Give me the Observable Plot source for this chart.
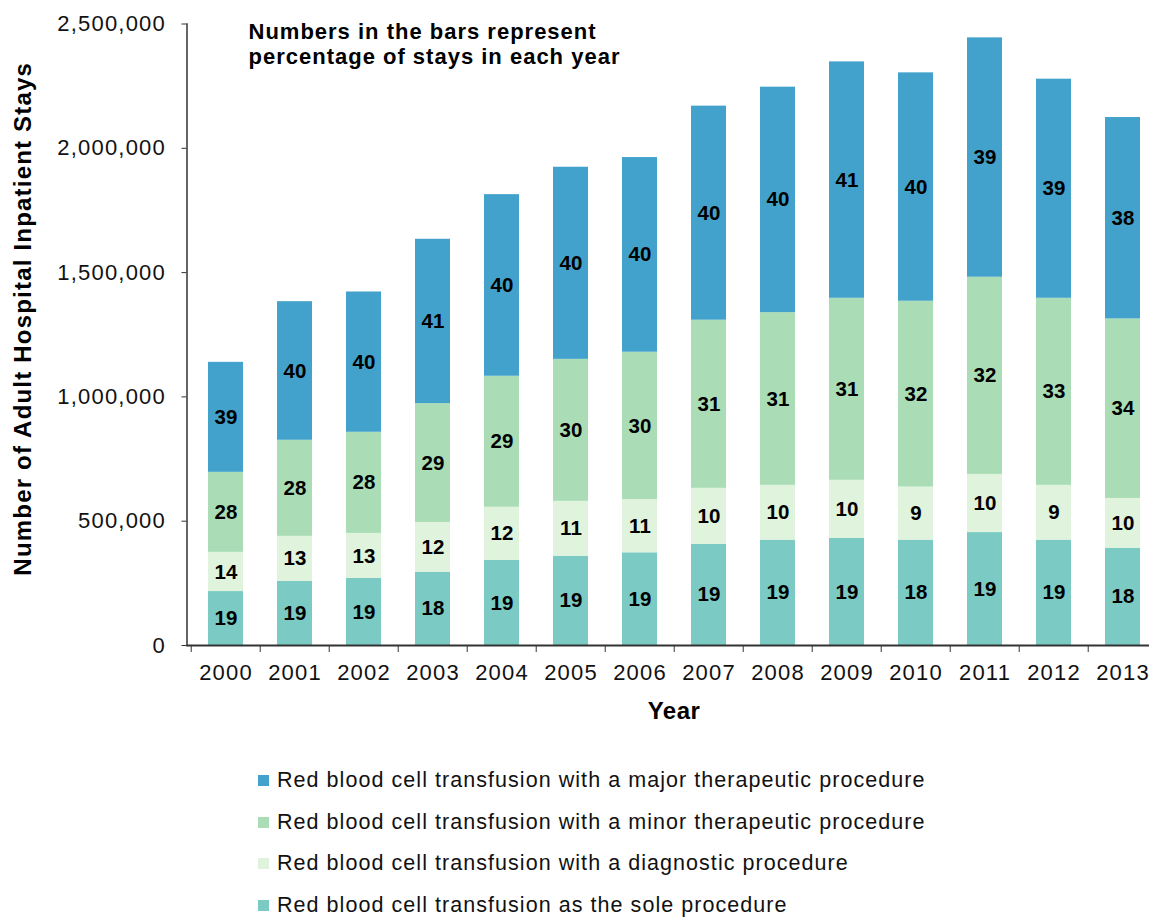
<!DOCTYPE html>
<html>
<head>
<meta charset="utf-8">
<script src="https://cdn.jsdelivr.net/npm/d3@7"></script>
<script src="https://cdn.jsdelivr.net/npm/@observablehq/plot@0.6"></script>
<style>
  html, body { margin: 0; padding: 0; background: white; }
  #wrap { position: relative; width: 1149px; height: 918px; overflow: hidden; font-family: "Liberation Sans", Arial, sans-serif; }
  .legend { position: absolute; left: 258px; top: 760px; }
  .legend .row { position: absolute; left: 0; height: 24px; white-space: nowrap; display: flex; align-items: center; font-size: 21.5px; letter-spacing: 1.05px; color: #111; }
  .legend .sw { width: 11px; height: 11px; margin-right: 8px; flex: none; }
  .bar-label text { letter-spacing: 0.2px; }
  .note text { letter-spacing: 1px; }
  .ytitle text { letter-spacing: 1.2px; }
  .xtitle text { letter-spacing: 0.5px; }
  g[aria-label="y-axis tick label"] text, g[aria-label="x-axis tick label"] text { letter-spacing: 1.2px; }
</style>
</head>
<body>
<div id="wrap"></div>
<script>
// ---- data ----
const years = ["2000","2001","2002","2003","2004","2005","2006","2007","2008","2009","2010","2011","2012","2013"];

const seriesNames = [
  "Red blood cell transfusion as the sole procedure",
  "Red blood cell transfusion with a diagnostic procedure",
  "Red blood cell transfusion with a minor therapeutic procedure",
  "Red blood cell transfusion with a major therapeutic procedure"
];
const seriesColors = ["#7BCBC4", "#E0F3DC", "#AADDB5", "#42A2CB"];

// stays
const soleValues  = [217000, 257600, 269500, 295000, 342400, 359300, 372900, 406800, 423800, 430500, 423800, 454300, 423800, 391500];
const diagValues  = [157600, 181400, 181400, 200000, 213600, 220400, 213600, 225400, 220300, 233900, 213500, 233900, 220300, 200100];
const minorValues = [322000, 386500, 406800, 478000, 527000, 571300, 593200, 676300, 694900, 732300, 747500, 793200, 752600, 722000];
const majorValues = [442400, 557500, 564300, 661000, 730600, 772800, 783100, 861100, 906900, 950900, 918700, 962800, 881300, 810200];

// percentages printed in the bars
const solePct  = [19, 19, 19, 18, 19, 19, 19, 19, 19, 19, 18, 19, 19, 18];
const diagPct  = [14, 13, 13, 12, 12, 11, 11, 10, 10, 10, 9, 10, 9, 10];
const minorPct = [28, 28, 28, 29, 29, 30, 30, 31, 31, 31, 32, 32, 33, 34];
const majorPct = [39, 40, 40, 41, 40, 40, 40, 40, 40, 41, 40, 39, 39, 38];

const yTicks = [0, 500000, 1000000, 1500000, 2000000, 2500000];

const noteText = "Numbers in the bars represent\npercentage of stays in each year";
const yTitle = "Number of Adult Hospital Inpatient Stays";
const xTitle = "Year";

// ---- table ----
const valueSets = [soleValues, diagValues, minorValues, majorValues];
const pctSets = [solePct, diagPct, minorPct, majorPct];
const rows = [];
seriesNames.forEach((s, i) => {
  years.forEach((y, j) => {
    rows.push({year: y, series: s, value: valueSets[i][j], pct: String(pctSets[i][j])});
  });
});

const FONT = "'Liberation Sans', Arial, sans-serif";
const W = 1149, H = 740, ML = 186.5, MR = -11.5, MT = 23.5, MB = 95;
const step = (W - MR - ML) / (years.length - 0.5 + 0.5);

const chart = Plot.plot({
  width: W,
  height: H,
  marginLeft: ML,
  marginRight: MR,
  marginTop: MT,
  marginBottom: MB,
  style: {fontFamily: FONT, background: "white", color: "#111", overflow: "visible"},
  x: {type: "band", domain: years, paddingInner: 0.5, paddingOuter: 0.25, label: null},
  y: {domain: [0, 2500000], label: null},
  color: {domain: seriesNames, range: seriesColors},
  marks: [
    Plot.barY(rows, {x: "year", y: "value", fill: "series", order: seriesNames}),
    Plot.text(rows, Plot.stackY({
      x: "year", y: "value", z: "series", order: seriesNames, text: "pct",
      fontWeight: "bold", fontSize: 20.5, fill: "#000", className: "bar-label"
    })),
    Plot.axisY({ticks: yTicks, tickSize: 5, tickPadding: 16, tickFormat: d3.format(","), fontSize: 22, stroke: "#333", label: null}),
    Plot.axisX({tickSize: 0, tickPadding: 19, fontSize: 22, label: null}),
    Plot.axisX({tickSize: 7, tickFormat: () => "", dx: -step / 2, stroke: "#333", label: null}),
    Plot.ruleY([0], {stroke: "#333", strokeWidth: 1.8}),
    Plot.frame({anchor: "left", stroke: "#333", strokeWidth: 1.5}),
    Plot.text([noteText], {
      frameAnchor: "top-left", textAnchor: "start", lineAnchor: "top",
      dx: 61.5, dy: -2.5, fontSize: 22, fontWeight: "bold", lineHeight: 1.14, fill: "#000", className: "note"
    }),
    Plot.text([yTitle], {
      frameAnchor: "left", rotate: -90, textAnchor: "middle", lineAnchor: "middle",
      dx: -163.5, dy: -16, fontSize: 24, fontWeight: "bold", fill: "#000", className: "ytitle"
    }),
    Plot.text([xTitle], {
      frameAnchor: "bottom", textAnchor: "middle", lineAnchor: "middle",
      dy: 66, fontSize: 24, fontWeight: "bold", fill: "#000", className: "xtitle"
    })
  ]
});

const wrap = document.getElementById("wrap");
wrap.appendChild(chart);

// legend (below the chart), top series first as in the reference
const legend = document.createElement("div");
legend.className = "legend";
const legendOrder = [3, 2, 1, 0];
const rowCenters = [20, 62, 103, 145];
legendOrder.forEach((i, k) => {
  const r = document.createElement("div");
  r.className = "row";
  r.style.top = (rowCenters[k] - 12) + "px";
  const sw = document.createElement("span");
  sw.className = "sw";
  sw.style.background = seriesColors[i];
  const t = document.createElement("span");
  t.textContent = seriesNames[i];
  r.appendChild(sw);
  r.appendChild(t);
  legend.appendChild(r);
});
wrap.appendChild(legend);
</script>
</body>
</html>
